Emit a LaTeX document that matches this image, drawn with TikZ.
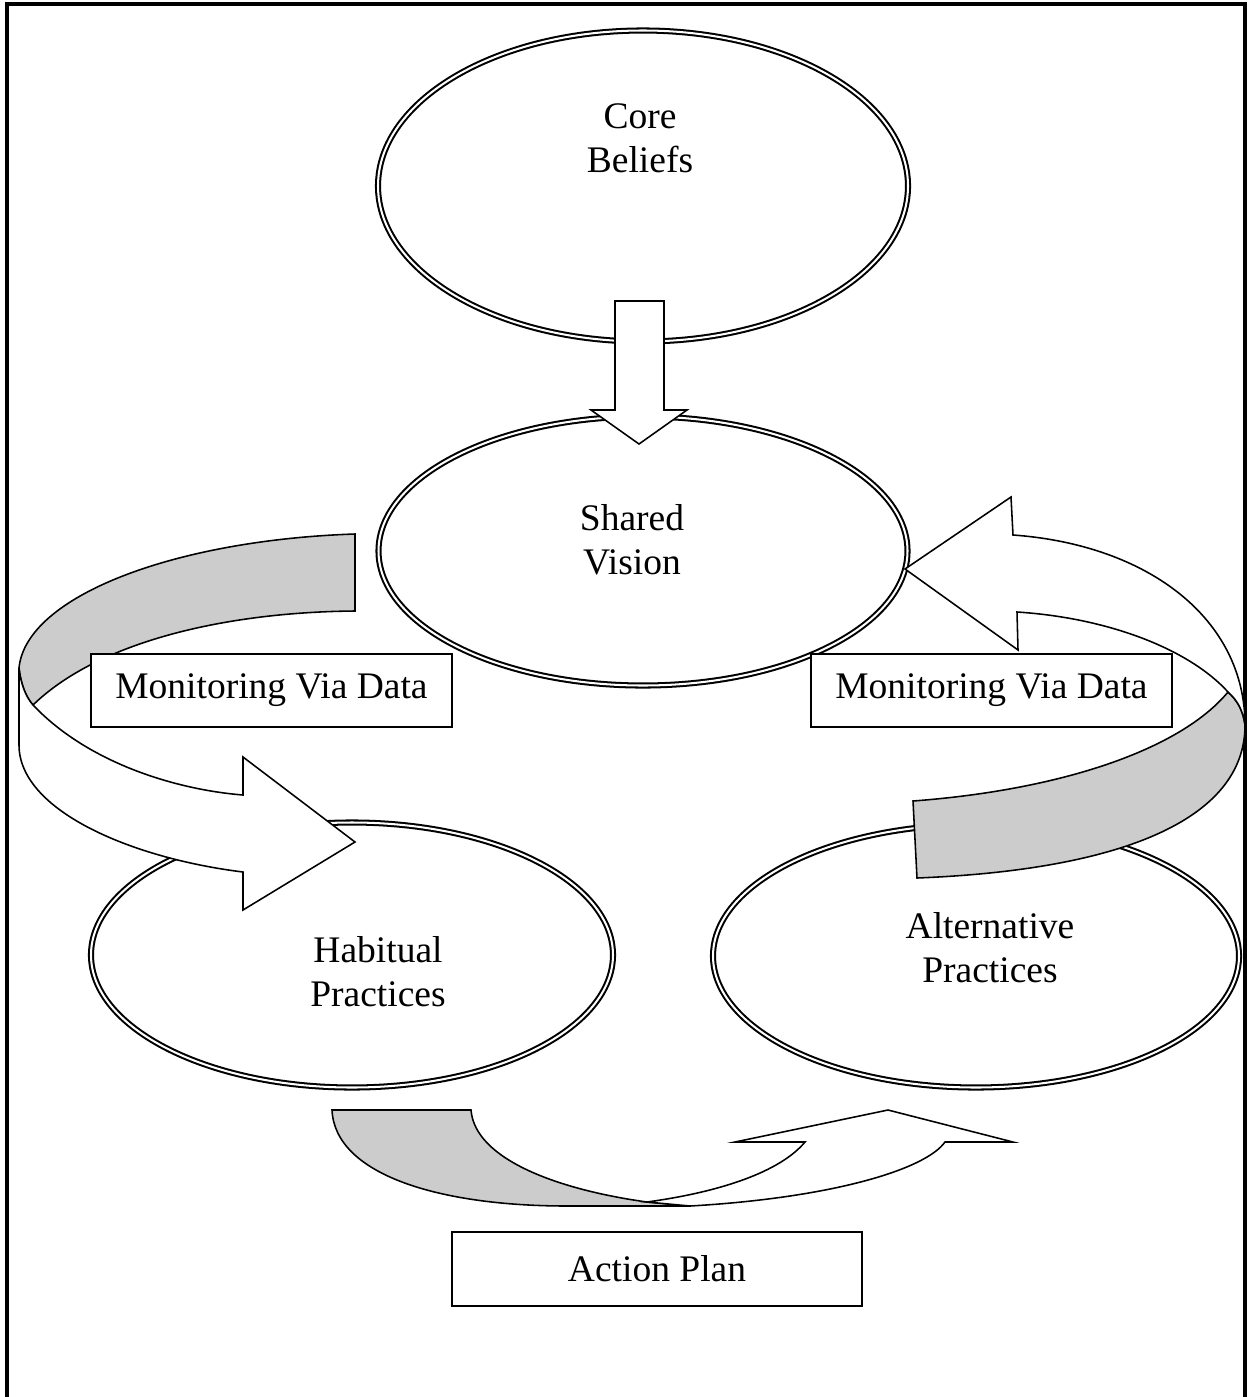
\documentclass[tikz,border=0pt]{standalone}
\usepackage{fontspec}
\setmainfont{Liberation Serif}
\usetikzlibrary{shapes.geometric}
\newcommand{\pxlen}{0.32pt}

\begin{document}
\begin{tikzpicture}[x=0.32pt, y=-0.32pt,
    bubble/.style={draw, ellipse, double, line width=0.65pt, double distance=0.65pt, fill=white, inner sep=0pt},
    caption/.style={align=center, font=\fontsize{12}{14}\selectfont, inner sep=0pt},
    tagbox/.style={draw, fill=white, line width=0.5pt, minimum width=361*\pxlen, minimum height=73*\pxlen, font=\fontsize{12}{14}\selectfont},
    blockarrow/.style={draw, fill=white, line width=0.5pt},
    backside/.style={draw, fill=gray!40, line width=0.5pt}]

    \useasboundingbox (0,0) rectangle (1248,1397);

    % Frame, open at the bottom
    \draw[line width=1.2pt] (7,1397) -- (7,4) -- (1245,4) -- (1245,1397);

    % Ellipses
    \node[bubble, minimum width=530*\pxlen, minimum height=311*\pxlen] (core) at (643,186) {};
    \node[bubble, minimum width=529*\pxlen, minimum height=269*\pxlen] (vision) at (643,551) {};
    \node[bubble, minimum width=522*\pxlen, minimum height=265*\pxlen] (habitual) at (352,955) {};
    \node[bubble, minimum width=526*\pxlen, minimum height=263*\pxlen] (alternative) at (976,956) {};

    % Down arrow: beliefs to vision
    \draw[blockarrow] (615,301) -- (664,301) -- (664,410) -- (687,410) -- (639,444) -- (591,410) -- (615,410) -- cycle;

    % Left ribbon arrow
    \draw[backside] (355,534) .. controls (175,540) and (26,596) .. (19,668) .. controls (21,685) and (26,697) .. (33,705) .. controls (100,640) and (230,612) .. (355,611) -- cycle;
    \draw[blockarrow] (19,668) .. controls (21,685) and (26,697) .. (33,705) .. controls (90,765) and (180,790) .. (243,795) -- (243,757) -- (355,842) -- (243,910) -- (243,872) .. controls (130,858) and (19,810) .. (19,745) -- cycle;

    % Right ribbon arrow
    \draw[backside] (1228,692) .. controls (1237,700) and (1243,710) .. (1245,725) .. controls (1245,820) and (1120,870) .. (917,878) -- (913,801) .. controls (1060,790) and (1180,750) .. (1228,692) -- cycle;
    \draw[blockarrow] (1245,725) .. controls (1243,710) and (1237,700) .. (1228,692) .. controls (1190,650) and (1110,618) .. (1017,612) -- (1018,650) -- (905,569) -- (1011,497) -- (1013,535) .. controls (1150,545) and (1245,620) .. (1245,725) -- cycle;

    % Bottom ribbon arrow
    \draw[backside] (332,1110) -- (471,1110) .. controls (475,1160) and (560,1190) .. (647,1202) -- (690,1206) -- (567,1206) .. controls (440,1206) and (335,1175) .. (332,1110) -- cycle;
    \draw[blockarrow] (647,1202) .. controls (720,1192) and (780,1172) .. (805,1142) -- (735,1142) -- (888,1110) -- (1013,1142) -- (945,1142) .. controls (925,1170) and (830,1198) .. (690,1206) -- cycle;

    % Label boxes
    \node[tagbox] (monleft) at (271.5,690.5) {Monitoring Via Data};
    \node[tagbox] (monright) at (991.5,690.5) {Monitoring Via Data};
    \node[tagbox, minimum width=410*\pxlen, minimum height=74*\pxlen] (plan) at (657,1269) {Action Plan};

    % Ellipse texts
    \node[caption] (core-text) at (640,138) {Core\\Beliefs};
    \node[caption] (vision-text) at (632,540) {Shared\\Vision};
    \node[caption] (habitual-text) at (378,972) {Habitual\\Practices};
    \node[caption] (alternative-text) at (990,948) {Alternative\\Practices};
\end{tikzpicture}
\end{document}
